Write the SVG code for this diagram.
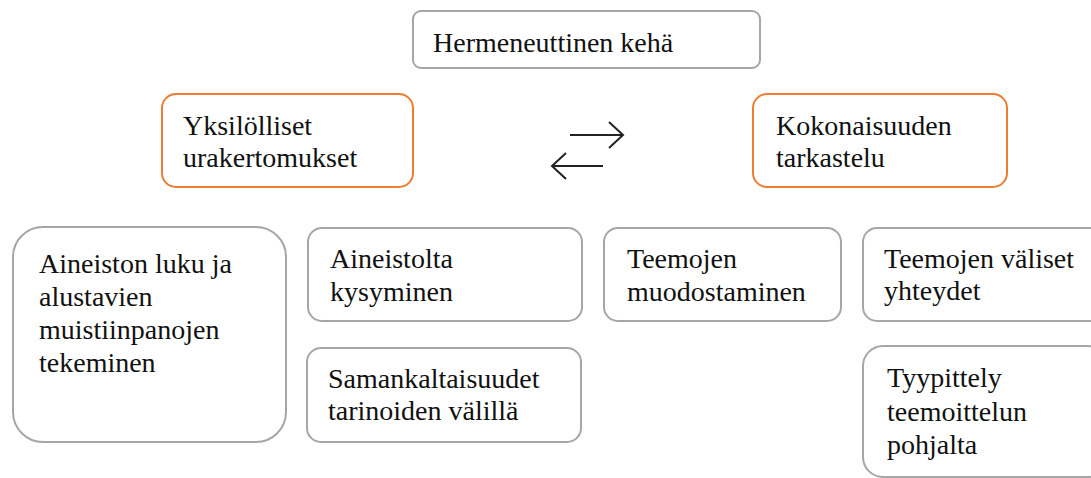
<svg xmlns="http://www.w3.org/2000/svg" width="1091" height="478" viewBox="0 0 1091 478">
<defs>
<style>
.g{fill:#fff;stroke:#A6A6A6;stroke-width:2}
.o{fill:#fff;stroke:#ED7D31;stroke-width:2}
.a{fill:none;stroke:#222;stroke-width:2}
text{font-family:"Liberation Serif","Times New Roman",serif;font-size:28px;fill:#111}
</style>
</defs>
<rect width="1091" height="478" fill="#fff"/>
<g id="hermeneuttinen">
<rect class="g" x="413" y="11" width="347" height="57" rx="8"/>
<text x="433" y="52">Hermeneuttinen kehä</text>
</g>
<g id="yksilolliset">
<rect class="o" x="162" y="94" width="251" height="93" rx="14"/>
<text x="183" y="135">Yksilölliset</text>
<text x="183" y="167">urakertomukset</text>
</g>
<g id="kokonaisuuden">
<rect class="o" x="753" y="94" width="254" height="93" rx="14"/>
<text x="776" y="135">Kokonaisuuden</text>
<text x="776" y="167">tarkastelu</text>
</g>
<g id="aineiston">
<rect class="g" x="13" y="227" width="273" height="215" rx="30"/>
<text x="39" y="273">Aineiston luku ja</text>
<text x="39" y="306">alustavien</text>
<text x="39" y="339">muistiinpanojen</text>
<text x="39" y="372">tekeminen</text>
</g>
<g id="aineistolta">
<rect class="g" x="308" y="228" width="274" height="93" rx="14"/>
<text x="330" y="268">Aineistolta</text>
<text x="330" y="301">kysyminen</text>
</g>
<g id="samankaltaisuudet">
<rect class="g" x="307" y="348" width="274" height="94" rx="14"/>
<text x="328" y="388">Samankaltaisuudet</text>
<text x="328" y="420">tarinoiden välillä</text>
</g>
<g id="teemojen-muodostaminen">
<rect class="g" x="604" y="228" width="237" height="93" rx="14"/>
<text x="627" y="268">Teemojen</text>
<text x="627" y="301">muodostaminen</text>
</g>
<g id="teemojen-valiset">
<rect class="g" x="863" y="228" width="245" height="93" rx="14"/>
<text x="884" y="268">Teemojen väliset</text>
<text x="884" y="300">yhteydet</text>
</g>
<g id="tyypittely">
<rect class="g" x="863" y="346" width="245" height="131" rx="20"/>
<text x="887" y="387">Tyypittely</text>
<text x="887" y="421">teemoittelun</text>
<text x="887" y="454">pohjalta</text>
</g>
<g id="connectors">
<path class="a" d="M570 135H623M609 122L623 135L609 148"/>
<path class="a" d="M603 166H552M566 153L552 166L566 179"/>
</g>
</svg>
